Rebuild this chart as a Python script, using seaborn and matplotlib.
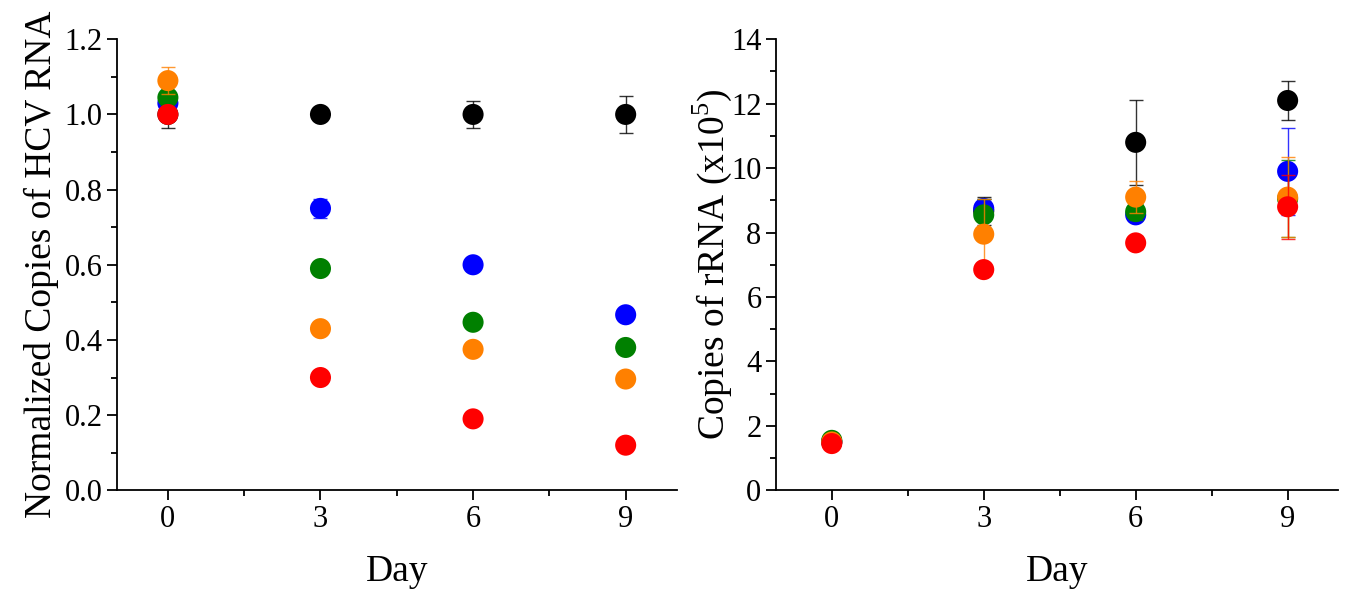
import numpy as np
import pandas as pd
import matplotlib
matplotlib.use("Agg")
import matplotlib.pyplot as plt
import seaborn as sns
from matplotlib.ticker import MultipleLocator, FormatStrFormatter

days = [0, 3, 6, 9]
series = ["black", "blue", "green", "orange", "red"]
colors = {"black": "#000000", "blue": "#0000FF", "green": "#008000",
          "orange": "#FF8000", "red": "#FF0000"}

# Left panel: normalized HCV RNA
hcv_black = [1.00, 1.00, 1.00, 1.00]
hcv_blue = [1.03, 0.75, 0.60, 0.467]
hcv_green = [1.045, 0.59, 0.447, 0.38]
hcv_orange = [1.09, 0.43, 0.375, 0.296]
hcv_red = [1.00, 0.30, 0.19, 0.12]
hcv_black_err = [0.035, 0.012, 0.037, 0.05]
hcv_blue_err = [0.03, 0.025, 0.005, 0.005]
hcv_green_err = [0.01, 0.005, 0.005, 0.005]
hcv_orange_err = [0.035, 0.005, 0.005, 0.005]
hcv_red_err = [0.005, 0.005, 0.005, 0.005]

# Right panel: copies of rRNA (x10^5)
rna_black = [1.5, 8.67, 10.8, 12.1]
rna_blue = [1.5, 8.75, 8.55, 9.9]
rna_green = [1.55, 8.55, 8.65, 9.05]
rna_orange = [1.5, 7.95, 9.1, 9.1]
rna_red = [1.45, 6.85, 7.68, 8.8]
rna_black_err = [0.1, 0.44, 1.32, 0.6]
rna_blue_err = [0.1, 0.3, 0.1, 1.35]
rna_green_err = [0.15, 0.5, 0.25, 1.2]
rna_orange_err = [0.15, 1.1, 0.5, 1.25]
rna_red_err = [0.1, 0.1, 0.2, 1.0]

hcv = {"black": hcv_black, "blue": hcv_blue, "green": hcv_green,
       "orange": hcv_orange, "red": hcv_red}
hcv_err = {"black": hcv_black_err, "blue": hcv_blue_err, "green": hcv_green_err,
           "orange": hcv_orange_err, "red": hcv_red_err}
rna = {"black": rna_black, "blue": rna_blue, "green": rna_green,
       "orange": rna_orange, "red": rna_red}
rna_err = {"black": rna_black_err, "blue": rna_blue_err, "green": rna_green_err,
           "orange": rna_orange_err, "red": rna_red_err}

sns.set_style("ticks")
plt.rcParams["font.family"] = ["Liberation Serif", "DejaVu Serif"]
plt.rcParams["mathtext.fontset"] = "custom"
plt.rcParams["mathtext.rm"] = "Liberation Serif"
plt.rcParams["text.color"] = "black"
plt.rcParams["axes.labelcolor"] = "black"

fig = plt.figure(figsize=(13.45, 5.95), dpi=100)
axL = fig.add_axes([0.087, 0.176, 0.416, 0.758])
axR = fig.add_axes([0.577, 0.176, 0.418, 0.758])


def draw(ax, vals, errs):
    rows = []
    for s in series:
        for d, v in zip(days, vals[s]):
            rows.append({"Day": d, "Value": v, "Series": s})
    df = pd.DataFrame(rows)
    for i, s in enumerate(series):
        sub = df[df["Series"] == s]
        sns.scatterplot(data=sub, x="Day", y="Value", color=colors[s], s=230,
                        edgecolor="none", ax=ax, zorder=3 + 2 * i, legend=False)
        ax.errorbar(days, vals[s], yerr=errs[s], fmt="none", ecolor=colors[s],
                    elinewidth=1.0, capsize=5, capthick=1.0, alpha=0.8,
                    zorder=4 + 2 * i)


draw(axL, hcv, hcv_err)
draw(axR, rna, rna_err)

for ax in (axL, axR):
    sns.despine(ax=ax)
    for sp in ("left", "bottom"):
        ax.spines[sp].set_linewidth(1.3)
        ax.spines[sp].set_color("black")
    ax.set_xticks(days)
    ax.xaxis.set_minor_locator(MultipleLocator(1.5))
    ax.tick_params(which="major", direction="out", length=7, width=1.3,
                   labelsize=22, colors="black", labelcolor="black")
    ax.tick_params(which="minor", direction="out", length=4, width=1.3,
                   colors="black")
    ax.set_xlabel("Day", fontsize=27, labelpad=15, color="black")

axL.set_xlim(-1, 10)
axL.set_ylim(0, 1.2)
axL.yaxis.set_major_locator(MultipleLocator(0.2))
axL.yaxis.set_minor_locator(MultipleLocator(0.1))
axL.yaxis.set_major_formatter(FormatStrFormatter("%.1f"))
axL.set_ylabel("Normalized Copies of HCV RNA", fontsize=27, labelpad=4,
               color="black")

axR.set_xlim(-1.1, 10)
axR.set_ylim(0, 14)
axR.yaxis.set_major_locator(MultipleLocator(2))
axR.yaxis.set_minor_locator(MultipleLocator(1))
axR.set_ylabel("Copies of rRNA (x10$^{5}$)", fontsize=27, labelpad=-2,
               color="black")

fig.savefig("out.png", dpi=100, facecolor="white")
